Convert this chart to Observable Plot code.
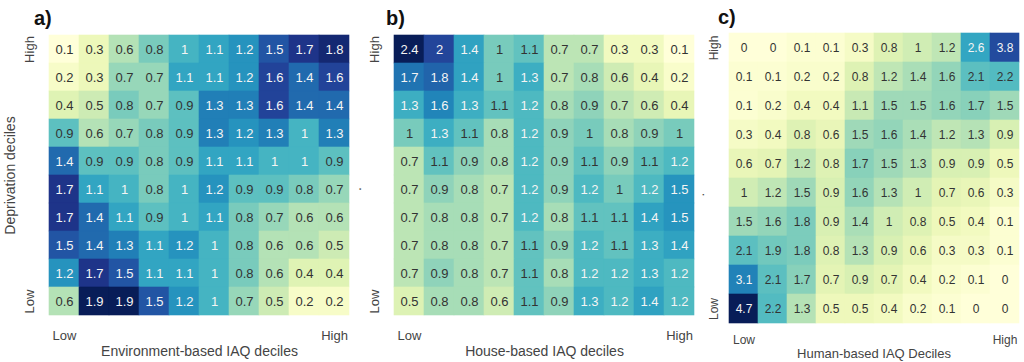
<!DOCTYPE html>
<html><head><meta charset="utf-8">
<script src="https://cdn.jsdelivr.net/npm/d3@7"></script>
<script src="https://cdn.jsdelivr.net/npm/@observablehq/plot@0.6"></script>
<style>
body{margin:0;background:#fff;font-family:"Liberation Sans",Arial,Helvetica,sans-serif}
#wrap{position:relative;width:1024px;height:362px;overflow:hidden;background:#fff}
.panel{position:absolute;top:0}
.tag{position:absolute;font-weight:bold;font-size:20px;color:#111;line-height:1}
</style></head><body><div id="wrap"></div>
<script>
// deciles 1 (Low) .. 10 (High)
const deciles = [1,2,3,4,5,6,7,8,9,10];
const lowLabel = "Low";
const highLabel = "High";
const panelTags = ["a)", "b)", "c)"];
const xLabels = ["Environment-based IAQ deciles", "House-based IAQ deciles", "Human-based IAQ Deciles"];
const yLabels = ["Deprivation deciles", ".\u00a0\u00a0\u00a0\u00a0\u00a0\u00a0\u00a0", ".\u00a0\u00a0\u00a0\u00a0\u00a0\u00a0\u00a0\u00a0\u00a0"];

// rows listed from deprivation decile 10 (High, top) down to 1 (Low, bottom); columns IAQ decile 1..10
const environmentRows = [
  [0.1,0.3,0.6,0.8,1,1.1,1.2,1.5,1.7,1.8],
  [0.2,0.3,0.7,0.7,1.1,1.1,1.2,1.6,1.4,1.6],
  [0.4,0.5,0.8,0.7,0.9,1.3,1.3,1.6,1.4,1.4],
  [0.9,0.6,0.7,0.8,0.9,1.3,1.2,1.3,1,1.3],
  [1.4,0.9,0.9,0.8,0.9,1.1,1.1,1,1,0.9],
  [1.7,1.1,1,0.8,1,1.2,0.9,0.9,0.8,0.7],
  [1.7,1.4,1.1,0.9,1,1.1,0.8,0.7,0.6,0.6],
  [1.5,1.4,1.3,1.1,1.2,1,0.8,0.6,0.6,0.5],
  [1.2,1.7,1.5,1.1,1.1,1,0.8,0.6,0.4,0.4],
  [0.6,1.9,1.9,1.5,1.2,1,0.7,0.5,0.2,0.2]
];
const houseRows = [
  [2.4,2,1.4,1,1.1,0.7,0.7,0.3,0.3,0.1],
  [1.7,1.8,1.4,1,1.3,0.7,0.8,0.6,0.4,0.2],
  [1.3,1.6,1.3,1.1,1.2,0.8,0.9,0.7,0.6,0.4],
  [1,1.3,1.1,0.8,1.2,0.9,1,0.8,0.9,1],
  [0.7,1.1,0.9,0.8,1.2,0.9,1.1,0.9,1.1,1.2],
  [0.7,0.9,0.8,0.7,1.2,0.9,1.2,1,1.2,1.5],
  [0.7,0.8,0.8,0.7,1.2,0.8,1.1,1.1,1.4,1.5],
  [0.7,0.8,0.8,0.7,1.1,0.9,1.2,1.1,1.3,1.4],
  [0.7,0.9,0.8,0.7,1.1,0.8,1.2,1.2,1.3,1.2],
  [0.5,0.8,0.8,0.6,1.1,0.9,1.3,1.2,1.4,1.2]
];
const humanRows = [
  [0,0,0.1,0.1,0.3,0.8,1,1.2,2.6,3.8],
  [0.1,0.1,0.2,0.2,0.8,1.2,1.4,1.6,2.1,2.2],
  [0.1,0.2,0.4,0.4,1.1,1.5,1.5,1.6,1.7,1.5],
  [0.3,0.4,0.8,0.6,1.5,1.6,1.4,1.2,1.3,0.9],
  [0.6,0.7,1.2,0.8,1.7,1.5,1.3,0.9,0.9,0.5],
  [1,1.2,1.5,0.9,1.6,1.3,1,0.7,0.6,0.3],
  [1.5,1.6,1.8,0.9,1.4,1,0.8,0.5,0.4,0.1],
  [2.1,1.9,1.8,0.8,1.3,0.9,0.6,0.3,0.3,0.1],
  [3.1,2.1,1.7,0.7,0.9,0.7,0.4,0.2,0.1,0],
  [4.7,2.2,1.3,0.5,0.5,0.4,0.2,0.1,0,0]
];

const layouts = [
  {left:0,   width:360, mt:33, mb:45, ml:46, mr:8, font:13, tickFont:13, labelFont:14, xPad:13, xOff:38, yPad:13, yOff:41, tag:[34,8]},
  {left:360, width:345, mt:33, mb:45, ml:31, mr:8, font:13, tickFont:13, labelFont:14, xPad:13, xOff:38, yPad:13, yOff:40, tag:[386,8]},
  {left:705, width:319, mt:32, mb:38, ml:22, mr:4, font:12, tickFont:12, labelFont:13, xPad:11, xOff:33, yPad:10, yOff:33, tag:[718,7]}
];

const wrap = document.getElementById("wrap");
const tickFmt = d => d === 1 ? lowLabel : d === 10 ? highLabel : "";
const fam = '"Liberation Sans", Arial, sans-serif';

[environmentRows, houseRows, humanRows].forEach((rows, k) => {
  const L = layouts[k];
  const data = [];
  rows.forEach((row, i) => row.forEach((v, j) => data.push({dep: 10 - i, iaq: j + 1, value: v})));
  const [mn, mx] = d3.extent(data, d => d.value);
  const plot = Plot.plot({
    width: L.width, height: 362,
    marginLeft: L.ml, marginRight: L.mr, marginTop: L.mt, marginBottom: L.mb,
    style: {fontFamily: fam, fontSize: L.tickFont + "px", color: "#444", background: "transparent", overflow: "visible"},
    x: {type: "band", domain: deciles, padding: 0, axis: null},
    y: {type: "band", domain: deciles.slice().reverse(), padding: 0, axis: null},
    color: {type: "linear", scheme: "ylgnbu", domain: [mn, mx]},
    marks: [
      Plot.cell(data, {x: "iaq", y: "dep", fill: "value", stroke: "value", strokeWidth: 0.6, inset: 0}),
      Plot.text(data, {x: "iaq", y: "dep", text: d => String(d.value), fontSize: L.font,
        fill: d => ((d.value - mn) / (mx - mn) > 0.472 ? "#f4f4f4" : "#333")}),
      // tick labels
      Plot.axisX({anchor: "bottom", tickFormat: tickFmt, tickSize: 0, tickPadding: L.xPad, label: null, fontSize: L.tickFont}),
      Plot.axisY({anchor: "left", tickFormat: tickFmt, tickSize: 0, tickPadding: L.yPad, tickRotate: -90, label: null, fontSize: L.tickFont}),
      // axis titles
      Plot.axisX({anchor: "bottom", tickFormat: () => "", tickSize: 0,
        label: xLabels[k], labelAnchor: "center", labelOffset: L.xOff, fontSize: L.labelFont}),
      Plot.axisY({anchor: "left", tickFormat: () => "", tickSize: 0,
        label: yLabels[k], labelAnchor: "center", labelOffset: L.yOff, fontSize: L.labelFont})
    ]
  });
  plot.classList.add("panel");
  plot.style.left = L.left + "px";
  wrap.appendChild(plot);
  const tag = document.createElement("div");
  tag.className = "tag";
  tag.textContent = panelTags[k];
  tag.style.left = L.tag[0] + "px";
  tag.style.top = L.tag[1] + "px";
  wrap.appendChild(tag);
});
</script></body></html>
